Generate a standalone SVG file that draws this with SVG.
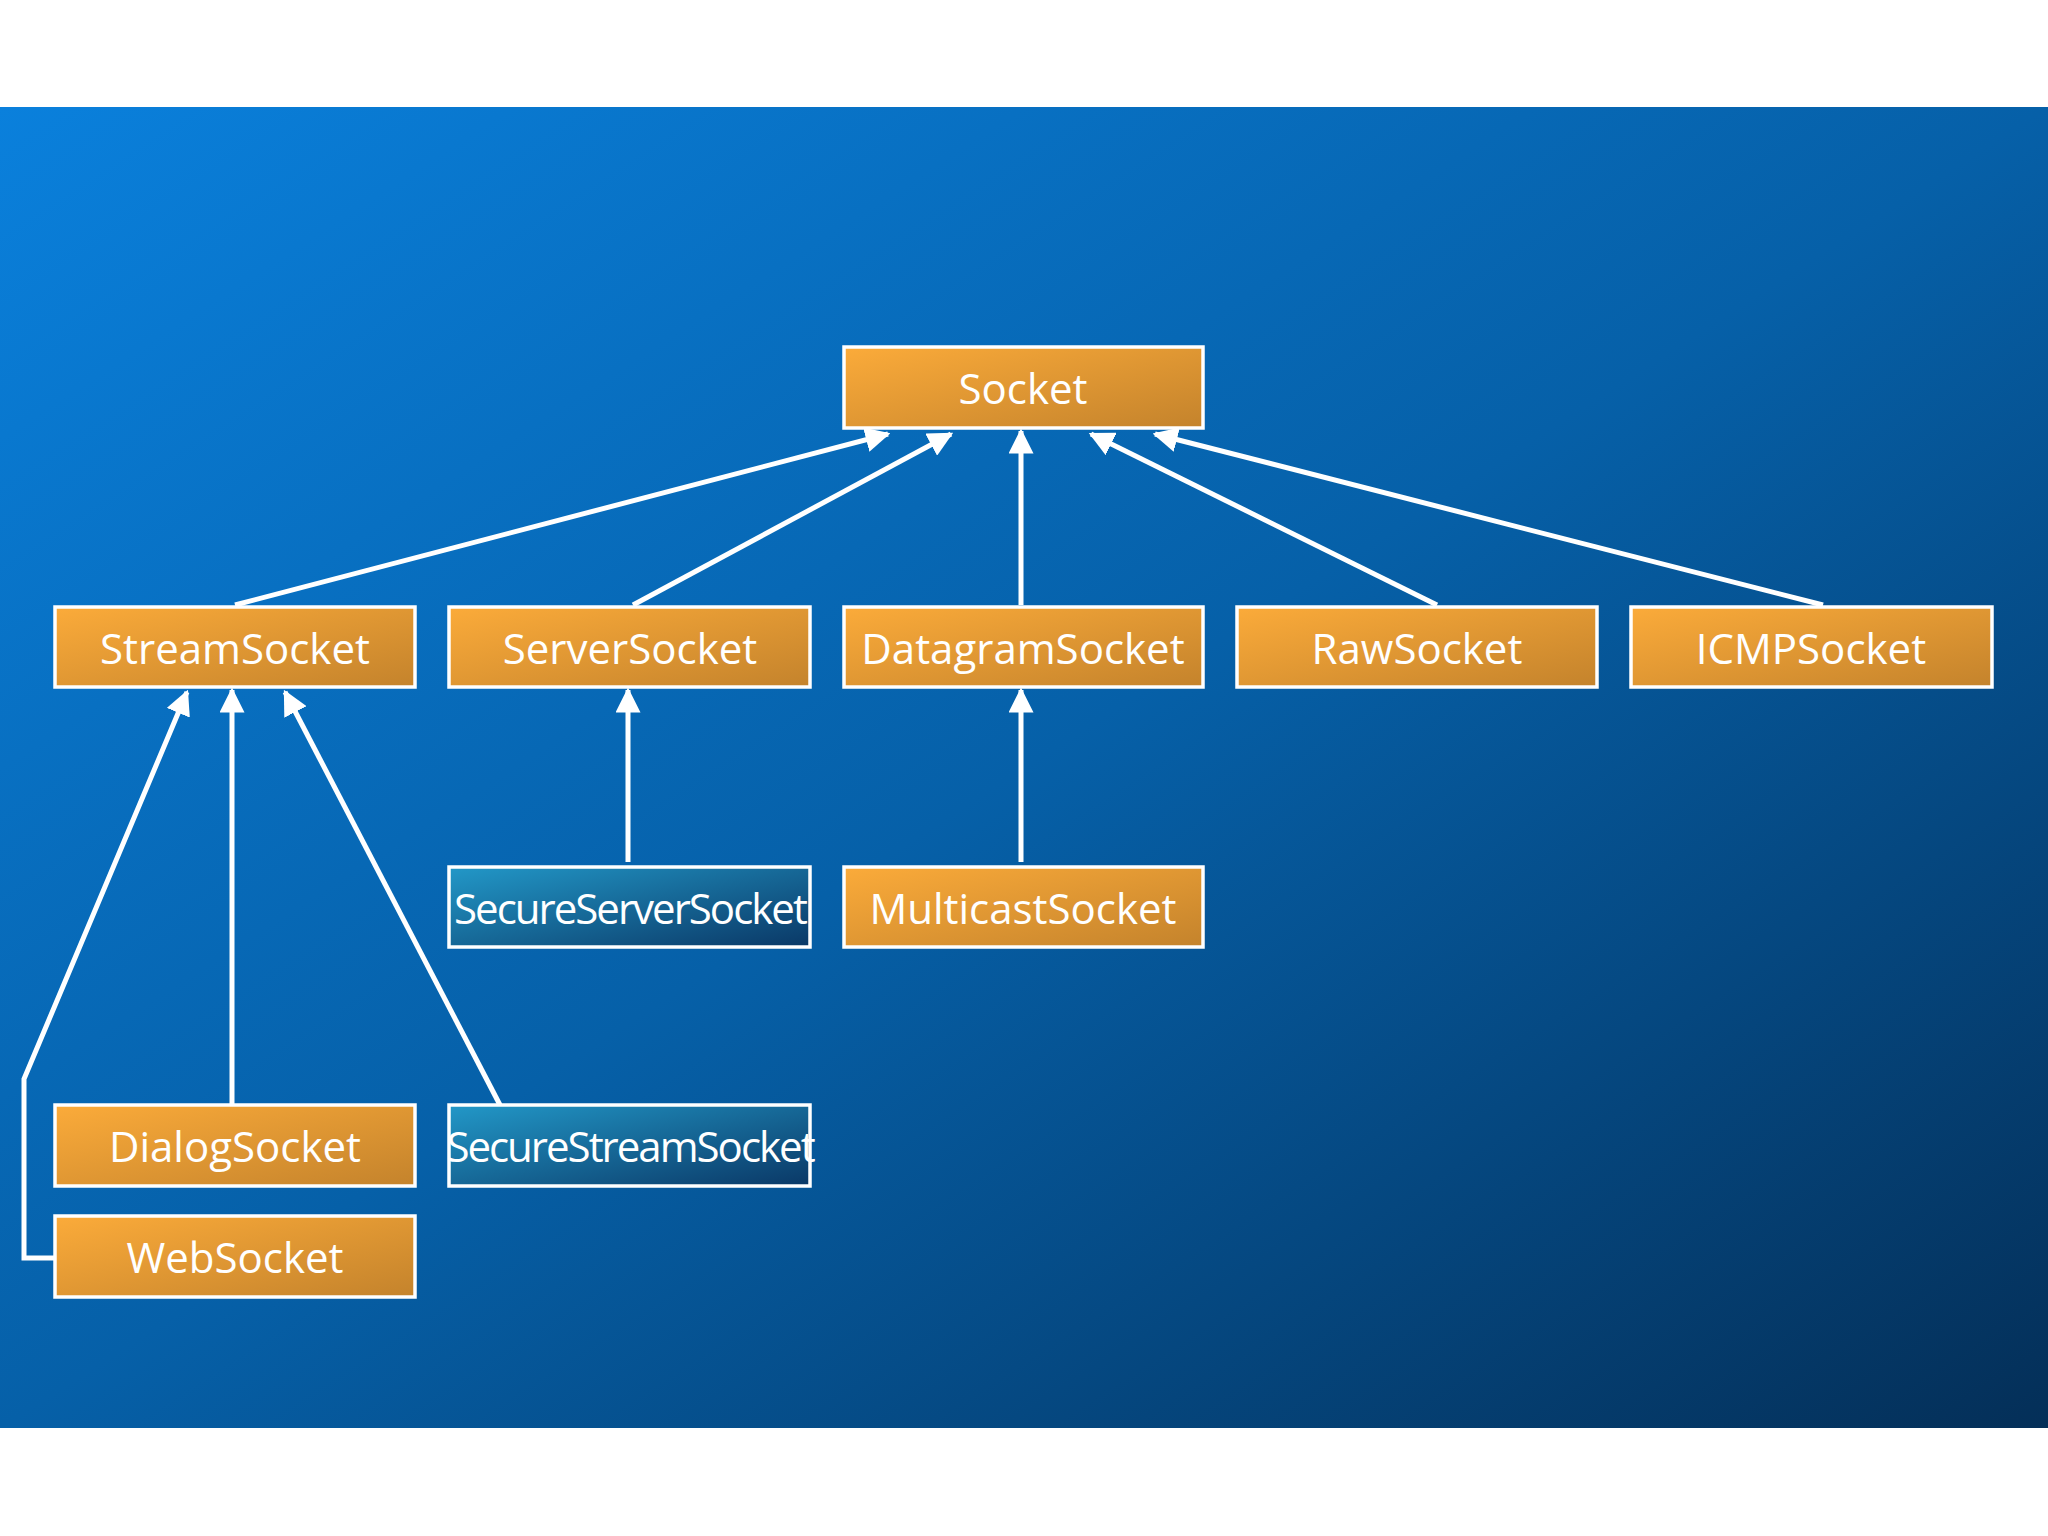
<svg xmlns="http://www.w3.org/2000/svg" width="2048" height="1536" viewBox="0 0 2048 1536">
<defs>
<linearGradient id="bg" x1="0" y1="0" x2="1" y2="1"><stop offset="0" stop-color="#0a80dc"/><stop offset="0.5" stop-color="#0660a8"/><stop offset="1" stop-color="#042f58"/></linearGradient>
<linearGradient id="og" x1="0" y1="0" x2="1" y2="1"><stop offset="0" stop-color="#fbab3a"/><stop offset="1" stop-color="#c4832c"/></linearGradient>
<linearGradient id="bl" x1="0" y1="0" x2="1" y2="1"><stop offset="0" stop-color="#2298c8"/><stop offset="1" stop-color="#0a3866"/></linearGradient>
<marker id="ah" viewBox="0 0 10 10" refX="9" refY="5" markerWidth="5" markerHeight="5" orient="auto" markerUnits="strokeWidth"><path d="M0,0 L10,5 L0,10 z" fill="#fff"/></marker>
</defs>
<style>
.o{fill:url(#og);stroke:#fff;stroke-width:3.5}
.b{fill:url(#bl);stroke:#fff;stroke-width:3.5}
text{font-family:"Open Sans","Liberation Sans",sans-serif;font-size:42px;fill:#fff;text-anchor:middle;dominant-baseline:central}
.n{letter-spacing:-2px}
.c{fill:none;stroke:#fff;stroke-width:5;marker-end:url(#ah)}
</style>
<rect width="2048" height="1536" fill="#fff"/>
<rect x="0" y="107" width="2048" height="1321" fill="url(#bg)"/>
<g id="connectors">
<path class="c" d="M235,605 L888,434"/>
<path class="c" d="M633,605 L951,434"/>
<path class="c" d="M1021,605 L1021,431"/>
<path class="c" d="M1437,605 L1091,434"/>
<path class="c" d="M1823,605 L1155,434"/>
<path class="c" d="M628,862 L628,690"/>
<path class="c" d="M1021,862 L1021,690"/>
<path class="c" d="M232,1105 L232,690"/>
<path class="c" d="M500,1105 L285,692"/>
<path class="c" d="M55,1258 L24,1258 L24,1079 L187,692"/>
</g>
<g id="Socket"><rect class="o" x="844" y="347" width="359" height="81"/><text x="1023" y="387">Socket</text></g>
<g id="StreamSocket"><rect class="o" x="55" y="607" width="360" height="80"/><text x="235" y="647">StreamSocket</text></g>
<g id="ServerSocket"><rect class="o" x="449" y="607" width="361" height="80"/><text x="630" y="647">ServerSocket</text></g>
<g id="DatagramSocket"><rect class="o" x="844" y="607" width="359" height="80"/><text x="1023" y="647">DatagramSocket</text></g>
<g id="RawSocket"><rect class="o" x="1237" y="607" width="360" height="80"/><text x="1417" y="647">RawSocket</text></g>
<g id="ICMPSocket"><rect class="o" x="1631" y="607" width="361" height="80"/><text x="1811" y="647">ICMPSocket</text></g>
<g id="SecureServerSocket"><rect class="b" x="449" y="867" width="361" height="80"/><text class="n" x="630" y="907">SecureServerSocket</text></g>
<g id="MulticastSocket"><rect class="o" x="844" y="867" width="359" height="80"/><text x="1023" y="907">MulticastSocket</text></g>
<g id="DialogSocket"><rect class="o" x="55" y="1105" width="360" height="81"/><text x="235" y="1145">DialogSocket</text></g>
<g id="SecureStreamSocket"><rect class="b" x="449" y="1105" width="361" height="81"/><text class="n" x="630" y="1145">SecureStreamSocket</text></g>
<g id="WebSocket"><rect class="o" x="55" y="1216" width="360" height="81"/><text x="235" y="1256">WebSocket</text></g>
</svg>
